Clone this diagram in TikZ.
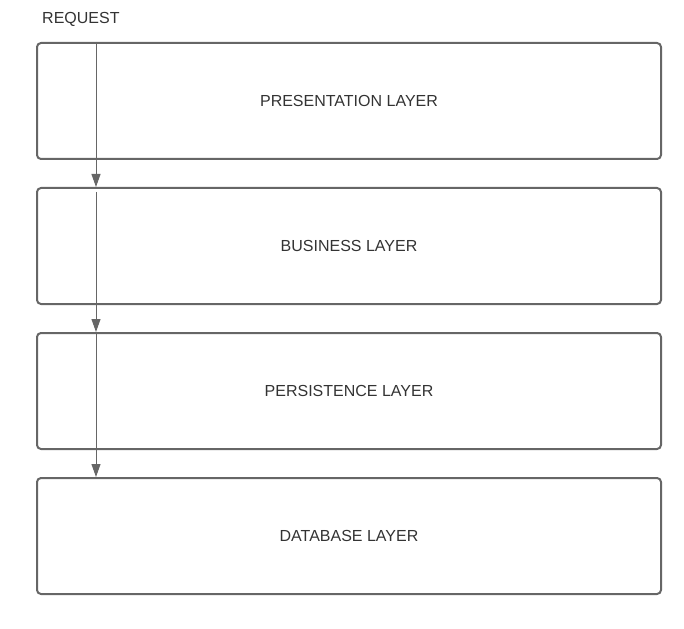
\documentclass[tikz,border=0pt]{standalone}
\usepackage{fontspec}
\setmainfont{Liberation Sans}
\usetikzlibrary{positioning, arrows.meta}
\definecolor{linegray}{HTML}{666666}
\definecolor{textgray}{HTML}{333333}

\begin{document}
\begin{tikzpicture}[x=1pt,y=-1pt,
  layer/.style={draw=linegray,line width=2pt,rounded corners=4pt,minimum width=624pt,minimum height=116pt,inner sep=0pt,text=textgray,font=\fontsize{16}{18}\selectfont},
  flow/.style={draw=linegray,line width=1pt,-{Triangle[length=13pt,width=9pt]}}]
\useasboundingbox (0,0) rectangle (684,628);
\node[text=textgray,font=\fontsize{16}{18}\selectfont,anchor=west,inner sep=0pt] (req) at (42,19) {REQUEST};
\node[layer] (pres) at (349,101) {PRESENTATION LAYER};
\node[layer] (bus) at (349,246) {BUSINESS LAYER};
\node[layer] (pers) at (349,391) {PERSISTENCE LAYER};
\node[layer] (db) at (349,536) {DATABASE LAYER};
\draw[flow] ([xshift=60pt]pres.north west) -- ([xshift=60pt]bus.north west);
\draw[flow] ([xshift=60pt,yshift=-5pt]bus.north west) -- ([xshift=60pt]pers.north west);
\draw[flow] ([xshift=60pt]pers.north west) -- ([xshift=60pt]db.north west);
\end{tikzpicture}
\end{document}
